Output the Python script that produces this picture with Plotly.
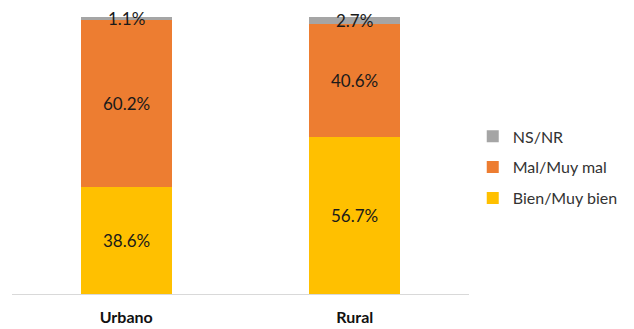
import plotly.graph_objects as go

categories = ["Urbano", "Rural"]
bien = [38.6, 56.7]
mal = [60.2, 40.6]
nsnr = [1.1, 2.7]

series = [
    ("Bien/Muy bien", bien, "#FFC000", 3),
    ("Mal/Muy mal", mal, "#ED7D31", 2),
    ("NS/NR", nsnr, "#A5A5A5", 1),
]

fig = go.Figure()
for name, vals, color, rank in series:
    fig.add_trace(go.Bar(
        name=name, x=categories, y=vals,
        marker=dict(color=color, line=dict(width=0)),
        legendgroup=name, legendrank=rank,
    ))

# value labels centred on each segment
base = [0.0] * len(categories)
for name, vals, color, rank in series:
    for i, cat in enumerate(categories):
        fig.add_annotation(
            x=cat, y=base[i] + vals[i] / 2, text=f"{vals[i]:.1f}%",
            showarrow=False, xref="x", yref="y",
            font=dict(family="Lato", size=17, color="#1a1a1a"),
        )
        base[i] += vals[i]

fig.update_layout(
    barmode="stack",
    bargap=0.6,
    width=634, height=329,
    margin=dict(l=12, r=164, t=17, b=35),
    paper_bgcolor="white", plot_bgcolor="white",
    font=dict(family="Lato", size=16, color="#222222"),
    showlegend=True,
    legend=dict(
        x=1.006, xanchor="left", y=0.457, yanchor="middle",
        traceorder="grouped", tracegroupgap=7,
        itemwidth=30,
        font=dict(family="Lato", size=16, color="#333333"),
        bgcolor="rgba(0,0,0,0)",
    ),
    xaxis=dict(
        showline=True, linecolor="#D9D9D9", linewidth=1,
        tickfont=dict(family="Lato", size=16, color="#111111", weight="bold"),
        ticks="", showgrid=False, ticklabelstandoff=9, automargin=False,
    ),
    yaxis=dict(range=[0, 100], visible=False, showgrid=False, automargin=False),
)

fig.write_html("out.html")
